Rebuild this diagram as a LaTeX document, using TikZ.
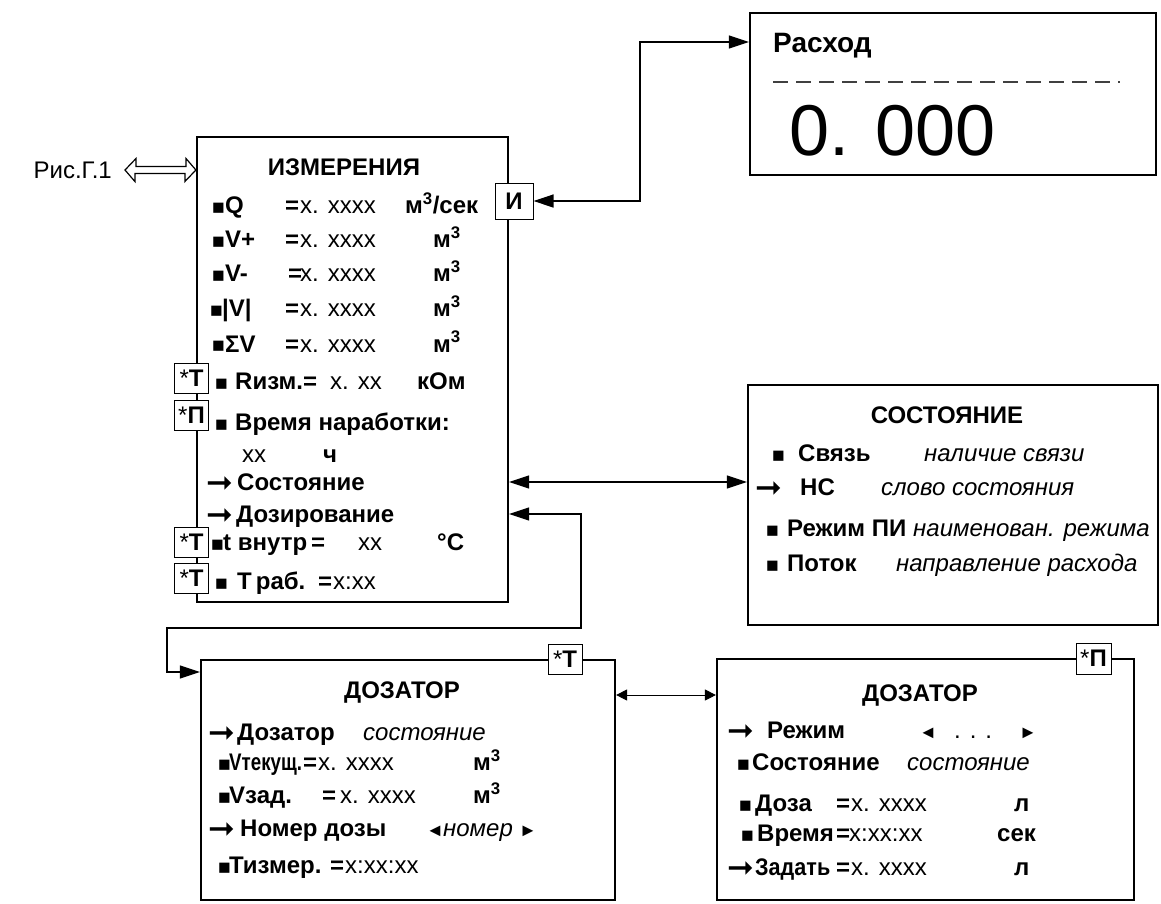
\documentclass[tikz,border=0pt]{standalone}
\usepackage{fontspec}
\usepackage{graphicx}
\setmainfont{Liberation Sans}
\newfontfamily\symfont{DejaVu Sans}
\usetikzlibrary{arrows.meta}
\newcommand\fld[2]{\makebox[#1pt][l]{#2}}
\newcommand\bul{\raisebox{-0.8pt}{\fontsize{21}{21}\selectfont ■}}
\newcommand\arr{\raisebox{-2.5pt}{\symfont\fontsize{32}{32}\selectfont ➞}}
\newcommand\tri[1]{{\fontsize{18}{18}\selectfont #1}}
\newcommand\sq[2]{\scalebox{#1}[1]{#2}}

\begin{document}
\begin{tikzpicture}[x=1pt, y=-1pt,
    panel/.style={draw, line width=2.2pt, inner sep=0pt},
    tag/.style={draw, line width=1pt, fill=white, inner sep=0pt, minimum width=34pt, minimum height=30pt, font=\fontsize{24}{26}\selectfont},
    head/.style={font=\bfseries\fontsize{24}{28}\selectfont},
    entry/.style={anchor=base west, inner sep=0pt, text height=17pt, text depth=0pt, font=\fontsize{24}{28}\selectfont},
    link/.style={line width=1.3pt, >={Triangle[length=20pt,width=13pt]}, <->},
    thinlink/.style={line width=1pt, >={Triangle[length=11pt,width=11pt]}, <->},
    hollow/.style={line width=1.2pt, line join=miter}
]
\useasboundingbox (0,0) rectangle (1161,903);

\node[panel, minimum width=311pt, minimum height=465pt] (izm) at (352.5,369.5) {};
\node[panel, minimum width=406pt, minimum height=162pt] (ras) at (953,94) {};
\node[panel, minimum width=410pt, minimum height=240pt] (state) at (953,505) {};
\node[panel, minimum width=414pt, minimum height=240pt] (dz1) at (408,780) {};
\node[panel, minimum width=417pt, minimum height=241pt] (dz2) at (925.5,779.5) {};

\node[head] (izmT) at (344,167) {ИЗМЕРЕНИЯ};
\node[head] (stateT) at (947,415) {СОСТОЯНИЕ};
\node[head] (dz1T) at (402,692) {ДОЗАТОР};
\node[head] (dz2T) at (920,695) {ДОЗАТОР};

\node[anchor=east, inner sep=0pt, font=\fontsize{24}{28}\selectfont] (fig) at (112,170) {Рис.Г.1};

\node[anchor=base west, inner sep=0pt, font=\bfseries\fontsize{28}{32}\selectfont] (rasT) at (773,52) {Расход};
\draw[line width=1.2pt, black!75, dash pattern=on 15pt off 8pt] (773,82) -- (1120,82);
\node[anchor=base west, inner sep=0pt, font=\fontsize{72}{80}\selectfont] (rasV) at (789,155) {0. 000};

\node[entry] (mQ) at (212,213.5) {\fld{13}{\bul}\fld{60}{\textbf{Q}}\fld{15}{\textbf{=}}\fld{105}{x. xxxx}\textbf{м\textsuperscript{3}/сек}};
\node[entry] (mVp) at (212,247.5) {\fld{13}{\bul}\fld{60}{\textbf{V+}}\fld{15}{\textbf{=}}\fld{133}{x. xxxx}\textbf{м\textsuperscript{3}}};
\node[entry] (mVm) at (212,281.5) {\fld{13}{\bul}\fld{63}{\textbf{V-}}\fld{12}{\textbf{=}}\fld{133}{x. xxxx}\textbf{м\textsuperscript{3}}};
\node[entry] (mVa) at (210,316.5) {\fld{12}{\bul}\fld{63}{\textbf{|V|}}\fld{15}{\textbf{=}}\fld{133}{x. xxxx}\textbf{м\textsuperscript{3}}};
\node[entry] (mVs) at (212,352) {\fld{13}{\bul}\fld{60}{\textbf{ΣV}}\fld{15}{\textbf{=}}\fld{133}{x. xxxx}\textbf{м\textsuperscript{3}}};
\node[entry] (mR) at (215,389.5) {\fld{20}{\bul}\fld{95}{\textbf{Rизм.=}}\fld{87}{x. xx}\textbf{кОм}};
\node[entry] (mTime) at (215,430.5) {\fld{20}{\bul}\textbf{Время наработки:}};
\node[entry] (mHours) at (242,462.5) {\fld{81}{xx}\textbf{ч}};
\node[entry] (mSost) at (206,490.5) {\fld{31}{\arr}\textbf{Состояние}};
\node[entry] (mDoz) at (206,522.5) {\fld{30}{\arr}\textbf{Дозирование}};
\node[entry] (mTin) at (211,550.5) {\fld{12}{\bul}\fld{135}{\textbf{t внутр\,=}}\fld{79}{xx}\textbf{°C}};
\node[entry] (mTw) at (215,589.5) {\fld{22}{\bul}\fld{81}{\textbf{Т\,раб.}}\fld{15}{\textbf{=}}x:xx};

\node[tag] (tg1) at (191.5,378) {*\textbf{Т}};
\node[tag] (tg2) at (191.5,415) {*\textbf{П}};
\node[tag] (tg3) at (191.5,542) {*\textbf{Т}};
\node[tag] (tg4) at (191.5,578) {*\textbf{Т}};
\node[tag, minimum width=38pt, minimum height=36pt] (ibox) at (514,201) {\textbf{И}};
\node[tag] (tg5) at (565,659) {*\textbf{Т}};
\node[tag, minimum width=35pt, minimum height=31pt] (tg6) at (1093.5,658.5) {*\textbf{П}};

\node[entry] (sLink) at (772,461.5) {\fld{26}{\bul}\fld{126}{\textbf{Связь}}\textit{наличие связи}};
\node[entry] (sNS) at (755,495.5) {\fld{45}{\arr}\fld{81}{\textbf{НС}}\textit{слово состояния}};
\node[entry] (sMode) at (766,536.5) {\fld{21}{\bul}\fld{126}{\textbf{Режим ПИ}}\textit{наименован. режима}};
\node[entry] (sFlow) at (766,571.5) {\fld{21}{\bul}\fld{109}{\textbf{Поток}}\textit{направление расхода}};

\node[entry] (aState) at (208,740.5) {\fld{29}{\arr}\fld{126}{\textbf{Дозатор}}\textit{состояние}};
\node[entry] (aCur) at (218,770.5) {\fld{11}{\bul}\fld{74}{\sq{0.78}{\textbf{Vтекущ.}}}\fld{15}{\textbf{=}}\fld{155}{x. xxxx}\textbf{м\textsuperscript{3}}};
\node[entry] (aSet) at (218,803.5) {\fld{11}{\bul}\fld{93}{\textbf{Vзад.}}\fld{18}{\textbf{=}}\fld{133}{x. xxxx}\textbf{м\textsuperscript{3}}};
\node[entry] (aNum) at (208,836.5) {\fld{32}{\arr}\fld{186}{\textbf{Номер дозы}}\fld{17}{\tri{◄}}\fld{76}{\textit{номер}}\tri{►}};
\node[entry] (aTime) at (218,873.5) {\fld{11}{\bul}\fld{101}{\textbf{Тизмер.}}\fld{15}{\textbf{=}}x:xx:xx};

\node[entry] (bMode) at (727,738.5) {\fld{40}{\arr}\fld{152}{\textbf{Режим}}\fld{35}{\tri{◄}}\fld{65}{. . .}\tri{►}};
\node[entry] (bState) at (737,770.5) {\fld{15}{\bul}\fld{155}{\textbf{Состояние}}\textit{состояние}};
\node[entry] (bDose) at (739,811.5) {\fld{16}{\bul}\fld{81}{\textbf{Доза}}\fld{15}{\textbf{=}}\fld{163}{x. xxxx}\textbf{л}};
\node[entry] (bTime) at (741,841.5) {\fld{16}{\bul}\fld{79}{\textbf{Время}}\fld{13}{\textbf{=}}\fld{148}{x:xx:xx}\textbf{сек}};
\node[entry] (bSet) at (727,875.5) {\fld{28}{\arr}\fld{81}{\sq{0.9}{\textbf{Задать}}}\fld{15}{\textbf{=}}\fld{163}{x. xxxx}\textbf{л}};

\coordinate (rb) at (640,42);
\coordinate (dzA) at (581,628);
\coordinate (dzB) at (167,672);

\draw[link] (ibox.east) -| (rb) -- (ras.west |- rb);
\draw[link] (izm.east |- mSost) -- (state.west |- mSost);
\draw[link] (izm.east |- mDoz) -| (dzA) -| (dzB) -- (dz1.west |- dzB);
\draw[thinlink] (dz1.east |- dz2T) -- (dz2.west |- dz2T);
\draw[hollow] ([xshift=13pt]fig.east) -- ++(11,-11.5) -- ++(0,8) -- ++(50,0) -- ++(0,-8)
    -- (izm.west |- fig) -- ++(-11,11.5) -- ++(0,-8) -- ++(-50,0) -- ++(0,8) -- cycle;

\end{tikzpicture}
\end{document}
